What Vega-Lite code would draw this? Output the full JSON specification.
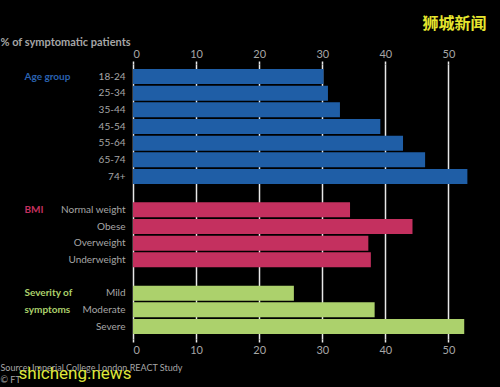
{
  "$schema": "https://vega.github.io/schema/vega-lite/v6.json",
  "width": 347,
  "height": 275,
  "autosize": "none",
  "padding": {"left": 133, "top": 64, "right": 20, "bottom": 48},
  "background": "#000000",
  "config": {
    "view": {"stroke": null},
    "font": "Lato",
    "axis": {"labelFont": "Lato", "titleFont": "Lato"}
  },
  "data": {
    "values": [
      {"group": "Age group", "label": "18-24", "value": 30.2},
      {"group": "Age group", "label": "25-34", "value": 30.9},
      {"group": "Age group", "label": "35-44", "value": 32.8},
      {"group": "Age group", "label": "45-54", "value": 39.2},
      {"group": "Age group", "label": "55-64", "value": 42.8},
      {"group": "Age group", "label": "65-74", "value": 46.3},
      {"group": "Age group", "label": "74+", "value": 53.0},
      {"group": "BMI", "label": "Normal weight", "value": 34.4},
      {"group": "BMI", "label": "Obese", "value": 44.3},
      {"group": "BMI", "label": "Overweight", "value": 37.3},
      {"group": "BMI", "label": "Underweight", "value": 37.7},
      {"group": "Severity of symptoms", "label": "Mild", "value": 25.5},
      {"group": "Severity of symptoms", "label": "Moderate", "value": 38.3},
      {"group": "Severity of symptoms", "label": "Severe", "value": 52.5}
    ]
  },
  "resolve": {"axis": {"x": "independent", "y": "independent"}},
  "layer": [
    {
      "mark": {"type": "bar"},
      "encoding": {
        "y": {
          "field": "label",
          "type": "nominal",
          "sort": null,
          "scale": {
            "domain": ["18-24", "25-34", "35-44", "45-54", "55-64", "65-74", "74+", " ", "Normal weight", "Obese", "Overweight", "Underweight", "  ", "Mild", "Moderate", "Severe"],
            "paddingInner": 0.1,
            "paddingOuter": 0.3
          },
          "axis": {
            "orient": "left",
            "domain": false,
            "ticks": false,
            "labelPadding": 8,
            "labelColor": "#a6a6a6",
            "labelFontSize": 10,
            "title": "狮城新闻",
            "titleAngle": 0,
            "titleX": 289,
            "titleY": -41,
            "titleAlign": "left",
            "titleBaseline": "middle",
            "titleColor": "#e6e62e",
            "titleFontSize": 16,
            "titleFont": "Noto Sans CJK SC",
            "titleFontWeight": "bold"
          }
        },
        "x": {
          "field": "value",
          "type": "quantitative",
          "scale": {"domain": [0, 55], "nice": false},
          "axis": {
            "orient": "top",
            "values": [0, 10, 20, 30, 40, 50],
            "domain": false,
            "grid": true,
            "gridColor": "#e8e8e8",
            "gridWidth": 1.5,
            "ticks": true,
            "tickColor": "#e8e8e8",
            "tickWidth": 1.5,
            "tickSize": 3,
            "labelPadding": 2,
            "labelColor": "#a6a6a6",
            "labelFontSize": 11,
            "title": "% of symptomatic patients",
            "titleX": -133,
            "titleY": -22,
            "titleAlign": "left",
            "titleBaseline": "middle",
            "titleColor": "#a6a6a6",
            "titleFontSize": 11,
            "titleFontWeight": "bold"
          }
        },
        "color": {
          "field": "group",
          "type": "nominal",
          "scale": {
            "domain": ["Age group", "BMI", "Severity of symptoms"],
            "range": ["#1f5ea6", "#c4305f", "#acd16c"]
          },
          "legend": null
        }
      }
    },
    {
      "mark": {"type": "bar", "opacity": 0},
      "encoding": {
        "y": {
          "field": "label",
          "type": "nominal",
          "sort": null,
          "axis": {
            "orient": "left",
            "offset": 109,
            "domain": false,
            "ticks": false,
            "labelPadding": 0,
            "labelAlign": "left",
            "labelFontSize": 10,
            "labelFontWeight": "bold",
            "labelExpr": "datum.value == '18-24' ? 'Age group' : datum.value == 'Normal weight' ? 'BMI' : datum.value == 'Mild' ? 'Severity of' : datum.value == 'Moderate' ? 'symptoms' : ''",
            "labelColor": {
              "condition": [
                {"test": "datum.value == '18-24'", "value": "#2a62b0"},
                {"test": "datum.value == 'Normal weight'", "value": "#c4305f"}
              ],
              "value": "#acd16c"
            },
            "title": "shicheng.news",
            "titleAngle": 0,
            "titleX": -6,
            "titleY": 309,
            "titleAlign": "left",
            "titleBaseline": "middle",
            "titleColor": "#dfe63a",
            "titleFontSize": 17,
            "titleFont": "Roboto",
            "titleFontWeight": "normal"
          }
        },
        "x": {
          "field": "value",
          "type": "quantitative",
          "axis": {
            "orient": "bottom",
            "values": [0, 10, 20, 30, 40, 50],
            "domain": false,
            "grid": false,
            "ticks": true,
            "tickColor": "#e8e8e8",
            "tickWidth": 1.5,
            "tickSize": 3,
            "labelPadding": 2,
            "labelColor": "#a6a6a6",
            "labelFontSize": 11,
            "title": ["Source: Imperial College London REACT Study", "© FT"],
            "titleX": -133,
            "titleY": 24,
            "titleAlign": "left",
            "titleBaseline": "top",
            "titleColor": "#a6a6a6",
            "titleFontSize": 9,
            "titleFontWeight": "normal",
            "titleLineHeight": 12
          }
        }
      }
    }
  ]
}
